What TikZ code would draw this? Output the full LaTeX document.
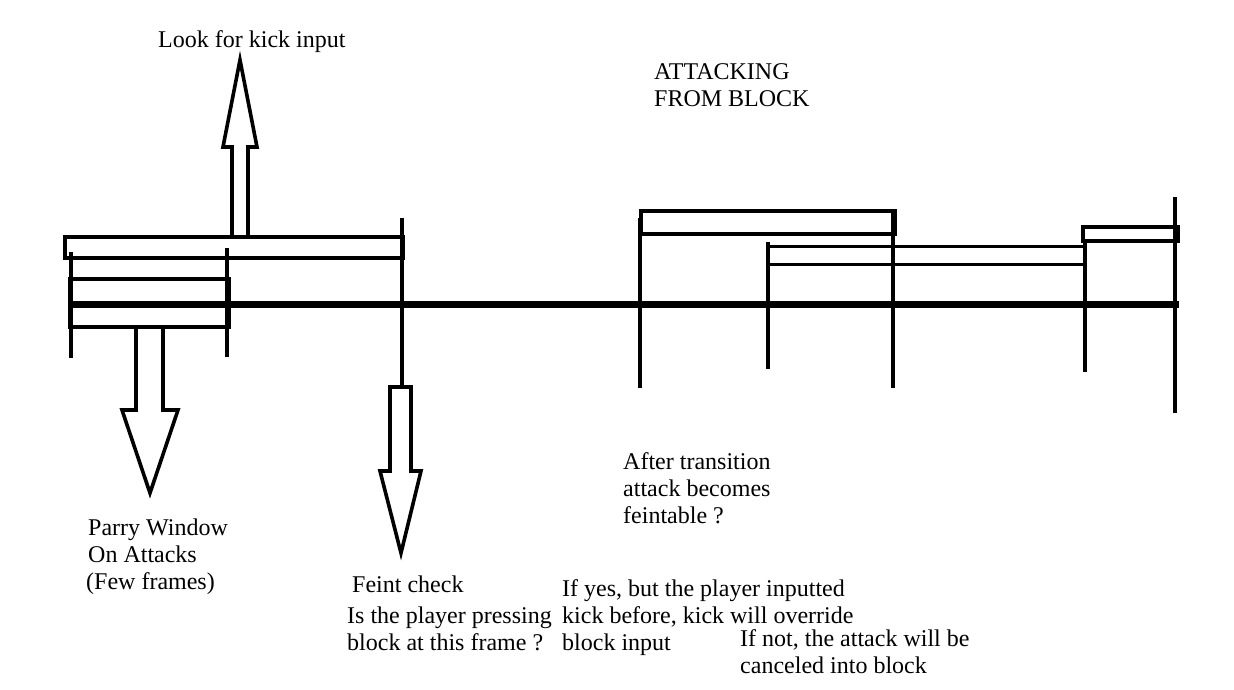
\documentclass[tikz,border=0pt]{standalone}
\usepackage{fontspec}
\setmainfont{Liberation Serif}
\begin{document}
\begin{tikzpicture}[x=1pt,y=-1pt,
  ln/.style={line width=3.6pt},
  bar/.style={line width=3.6pt},
  axis/.style={line width=7pt},
  barrow/.style={line width=3.6pt,line join=miter},
  lbl/.style={anchor=base west,inner sep=0pt,align=left,
    font=\fontsize{24pt}{26.8pt}\selectfont}]
\useasboundingbox (0,0) rectangle (1234,689);
\fill[white] (0,0) rectangle (1234,689);

% main time axis
\draw[axis] (70,304) -- (1179,304);

% left group
\draw[bar] (65,237) rectangle (403,258);
\draw[bar] (70,279) rectangle (229,327);
\draw[line width=2pt] (69,279) -- (69,327) (229,279) -- (229,327);
\draw[ln] (71,252) -- (71,358);
\draw[ln] (227,248) -- (227,357);
\draw[ln] (402,218) -- (402,387);

% up arrow
\draw[barrow] (232,237) -- (232,147) -- (223,147) -- (240,60) -- (257,147)
  -- (248,147) -- (248,237) -- cycle;
% left down arrow
\draw[barrow] (136,327) -- (136,410) -- (122,410) -- (150,493) -- (178,410)
  -- (163,410) -- (163,327) -- cycle;
% right down arrow
\draw[barrow] (390,387) -- (390,471) -- (380,471) -- (401,553) -- (421,471)
  -- (411,471) -- (411,387) -- cycle;

% right group
\draw[bar] (641,211) rectangle (895,234);
\draw[line width=2pt] (896,211) -- (896,234);
\draw[ln] (640,218) -- (640,388);
\draw[ln] (893,211) -- (893,388);
\draw[bar] (768,246.5) -- (1085,246.5) (768,264.3) -- (1085,264.3);
\draw[ln] (768,242) -- (768,369);
\draw[ln] (1085,240) -- (1085,372);
\draw[bar] (1083,227) rectangle (1178,241);
\draw[ln] (1175,197) -- (1175,413);

% labels (anchored at the baseline of their last line)
\node[lbl] (kick) at (158,47) {Look for kick input};
\node[lbl] (atk) at (654,106) {ATTACKING\\FROM BLOCK};
\node[lbl] (trans) at (623,523) {After transition\\attack becomes\\feintable ?};
\node[lbl] (parry) at (86,589) {\hspace*{2pt}Parry Window\\\hspace*{2pt}On Attacks\\(Few frames)};
\node[lbl] (feint) at (352,592) {Feint check};
\node[lbl] (press) at (347,650) {Is the player pressing\\block at this frame ?};
\node[lbl] (yes) at (562,650) {If yes, but the player inputted\\kick before, kick will override\\block input};
\node[lbl] (no) at (740,673) {If not, the attack will be\\canceled into block};
\end{tikzpicture}
\end{document}
